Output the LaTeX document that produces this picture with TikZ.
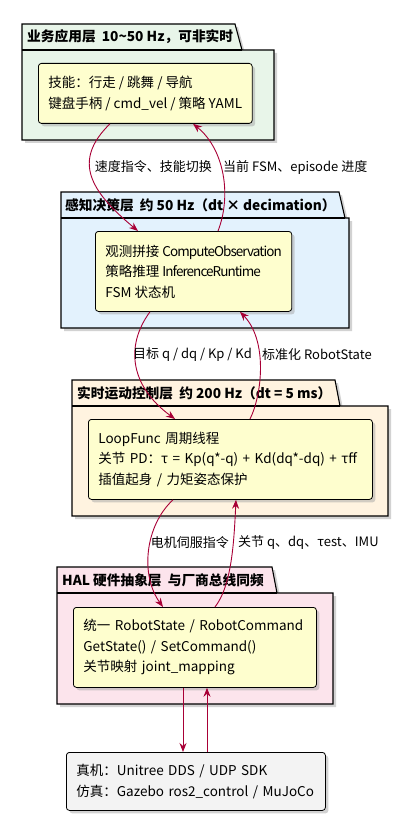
\documentclass[tikz,border=0pt]{standalone}
\usepackage{fontspec}
\setmainfont{Noto Sans CJK SC}
\usetikzlibrary{arrows.meta,shadows}

\definecolor{appfill}{HTML}{E8F5E9}
\definecolor{percfill}{HTML}{E3F2FD}
\definecolor{ctrlfill}{HTML}{FFF3E0}
\definecolor{halfill}{HTML}{FCE4EC}
\definecolor{compfill}{HTML}{FEFECE}
\definecolor{devfill}{HTML}{F3F3F3}
\definecolor{flowred}{HTML}{A80036}

\newcommand{\tightword}[1]{{\addfontfeatures{LetterSpace=-7}#1}}

\begin{document}
\begin{tikzpicture}[
      x=1pt, y=1pt,
      soft shadow/.style={drop shadow={shadow xshift=3pt, shadow yshift=-3pt, fill=black!35, opacity=0.5}},
      layer/.style={draw=black, line width=1.1pt, soft shadow},
      layer title/.style={font=\bfseries\fontsize{13.7}{16}\selectfont, anchor=west, inner sep=0pt},
      comp/.style={draw=black, line width=0.8pt, rounded corners=3pt, fill=compfill, anchor=north west,
        align=left, inner xsep=10pt, inner ysep=0pt, font=\fontsize{13.5}{20.5}\selectfont, soft shadow},
      flow/.style={draw=flowred, line width=0.9pt, -{Stealth[length=9pt, width=7pt, inset=3pt]}},
      flow label/.style={font=\fontsize{13}{15}\selectfont, inner sep=0pt}
    ]

    % Page frame
    \useasboundingbox (0,0) rectangle (409,-821);

    % Draw the layer packages (tab + body)
    \filldraw [layer, fill=appfill] (22,-24) -- (235,-24) -- (242,-50) -- (274,-50) -- (274,-140) -- (22,-140) -- cycle;
    \draw [line width=1.1pt] (22,-50) -- (242,-50);
    \node[layer title] (apptitle) at (27,-37) {业务应用层\hspace{0.45em}10\textasciitilde 50 Hz，可非实时};

    \filldraw [layer, fill=percfill] (61,-192) -- (339,-192) -- (345,-218) -- (349,-218) -- (349,-328) -- (61,-328) -- cycle;
    \draw [line width=1.1pt] (61,-218) -- (345,-218);
    \node[layer title] (perctitle) at (65,-205) {感知决策层\hspace{0.45em}约 50 Hz（dt × decimation）};

    \filldraw [layer, fill=ctrlfill] (72,-380) -- (335,-380) -- (340,-406) -- (388,-406) -- (388,-516) -- (72,-516) -- cycle;
    \draw [line width=1.1pt] (72,-406) -- (340,-406);
    \node[layer title] (ctrltitle) at (77,-393) {实时运动控制层\hspace{0.45em}约 200 Hz（dt = 5 ms）};

    \filldraw [layer, fill=halfill] (57,-567) -- (272,-567) -- (277,-593) -- (333,-593) -- (333,-704) -- (57,-704) -- cycle;
    \draw [line width=1.1pt] (57,-593) -- (277,-593);
    \node[layer title] (haltitle) at (62,-580) {HAL 硬件抽象层\hspace{0.45em}与厂商总线同频};

    % Components inside the layers
    \node[comp, minimum height=60pt] (app) at (38,-63)
      {技能：行走 / 跳舞 / 导航\\键盘手柄 / cmd\_vel / 策略 YAML};
    \node[comp, minimum height=80pt] (perc) at (95,-231)
      {观测拼接 \tightword{ComputeObservation}\\策略推理 \tightword{InferenceRuntime}\\FSM 状态机};
    \node[comp, text width=264pt, minimum height=80pt] (ctrl) at (88,-419)
      {LoopFunc 周期线程\\关节 PD：τ = Kp(q*-q) + Kd(dq*-dq) + τff\\插值起身 / 力矩姿态保护};
    \node[comp, text width=223pt, minimum height=80pt] (hal) at (73,-607)
      {统一 RobotState / RobotCommand\\GetState() / SetCommand()\\关节映射 joint\_mapping};
    \node[comp, fill=devfill, text width=239pt, minimum height=58pt] (dev) at (66,-752)
      {真机：Unitree DDS / UDP SDK\\仿真：Gazebo ros2\_control / MuJoCo};

    % Data flow between layers
    \draw [flow] ([xshift=72pt]app.south west) .. controls +(-38,-37) and +(-48,40) .. ([xshift=43pt]perc.north west);
    \draw [flow] ([xshift=123pt]perc.north west) .. controls +(14,36) and +(31,-25) .. ([xshift=155pt]app.south west);
    \draw [flow] ([xshift=55pt]perc.south west) .. controls +(-25,-34) and +(-45,33) .. ([xshift=87pt]ctrl.north west);
    \draw [flow] ([xshift=162pt]ctrl.north west) .. controls +(12,24) and +(28,-29) .. ([xshift=145pt]perc.south west);
    \draw [flow] ([xshift=85pt]ctrl.south west) .. controls +(-28,-26) and +(-23,32) .. ([xshift=90pt]hal.north west);
    \draw [flow] ([xshift=142pt]hal.north west) .. controls +(17,22) and +(-2,-41) .. ([xshift=148pt]ctrl.south west);
    \draw [flow] ([xshift=110pt]hal.south west) -- ([xshift=117pt]dev.north west);
    \draw [flow] ([xshift=141pt]dev.north west) -- ([xshift=134pt]hal.south west);

    % Flow labels
    \node[flow label, anchor=east] (cmdlabel) at (212,-167) {速度指令、技能切换};
    \node[flow label, anchor=west] (fsmlabel) at (223,-167) {当前 FSM、episode 进度};
    \node[flow label, anchor=east] (targetlabel) at (252,-355) {目标 q / dq / Kp / Kd};
    \node[flow label, anchor=west] (statelabel) at (262,-355) {标准化 RobotState};
    \node[flow label, anchor=east] (servolabel) at (229,-543) {电机伺服指令};
    \node[flow label, anchor=west] (jointlabel) at (238,-543) {关节 q、dq、τest、IMU};

  \end{tikzpicture}
\end{document}
